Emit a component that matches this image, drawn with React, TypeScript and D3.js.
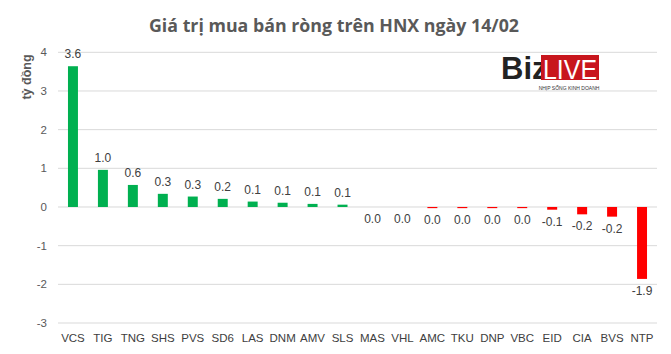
import React from "react";
import * as d3 from "d3";

const categories = ["VCS","TIG","TNG","SHS","PVS","SD6","LAS","DNM","AMV","SLS","MAS","VHL","AMC","TKU","DNP","VBC","EID","CIA","BVS","NTP"];
const values = [3.64,0.96,0.57,0.34,0.27,0.21,0.14,0.11,0.08,0.06,0,0,-0.03,-0.03,-0.03,-0.03,-0.07,-0.19,-0.25,-1.86];
const labels = ["3.6","1.0","0.6","0.3","0.3","0.2","0.1","0.1","0.1","0.1","0.0","0.0","0.0","0.0","0.0","0.0","-0.1","-0.2","-0.2","-1.9"];
const yTicks = [4,3,2,1,0,-1,-2,-3];

const W = 671, H = 354;
const left = 58, right = 657, top = 52.3, bottom = 323;

export default function App() {
  const x = d3.scaleBand().domain(categories).range([left, right]).paddingInner(0.667).paddingOuter(0.333);
  const y = d3.scaleLinear().domain([-3, 4]).range([bottom, top]);
  const bw = x.bandwidth();
  const font = "'Liberation Sans Narrow', 'Liberation Sans', Arial, sans-serif";
  return (
    <svg width={W} height={H} style={{ position: "absolute", left: 0, top: 0, background: "#fff" }}>
      <rect width={W} height={H} fill="#fff" />
      <text x={334} y={32} textAnchor="middle" fontFamily="'Open Sans', sans-serif" fontWeight="bold" fontSize={17.5} fill="#595959" textLength={370} lengthAdjust="spacingAndGlyphs">
        Giá trị mua bán ròng trên HNX ngày 14/02
      </text>
      {yTicks.map(t => (
        <g key={t}>
          <line x1={left} x2={right} y1={y(t)} y2={y(t)} stroke="#d9d9d9" strokeWidth={1} />
          <text x={47} y={y(t) + 4} textAnchor="end" fontFamily={font} fontSize={11.5} fill="#595959">{t}</text>
        </g>
      ))}
      <text transform={`translate(31,77) rotate(-90)`} textAnchor="middle" fontFamily="'Liberation Sans', Arial, sans-serif" fontWeight="bold" fontSize={12.5} fill="#595959">tỷ đồng</text>
      {categories.map((c, i) => {
        const v = values[i];
        const x0 = x(c)!;
        const cx = x0 + bw / 2;
        const y0 = y(Math.max(0, v));
        const h = Math.abs(y(v) - y(0));
        const ly = v > 0 ? y(v) - 8 : y(Math.min(0, v)) + 16;
        return (
          <g key={c}>
            {v !== 0 && <rect x={x0} y={y0} width={bw} height={h} fill={v > 0 ? "#00b050" : "#ff0000"} />}
            <text x={cx} y={ly} textAnchor="middle" fontFamily={font} fontSize={12} fill="#404040">{labels[i]}</text>
            <text x={cx} y={342} textAnchor="middle" fontFamily={font} fontSize={11.5} fill="#404040">{c}</text>
          </g>
        );
      })}
      <g>
        <text x={501} y={79} fontFamily="'Liberation Sans', Arial, sans-serif" fontWeight="bold" fontSize={31} fill="#222">Biz</text>
        <rect x={541} y={55} width={58} height={25} fill="#c8161d" />
        <text x={570} y={78.5} textAnchor="middle" fontFamily="'Liberation Sans', Arial, sans-serif" fontSize={27} fill="#fff" textLength={54} lengthAdjust="spacingAndGlyphs">LIVE</text>
        <text x={569} y={90} textAnchor="middle" fontFamily="'Liberation Sans', Arial, sans-serif" fontSize={5} fill="#333">NHỊP SỐNG KINH DOANH</text>
      </g>
    </svg>
  );
}
